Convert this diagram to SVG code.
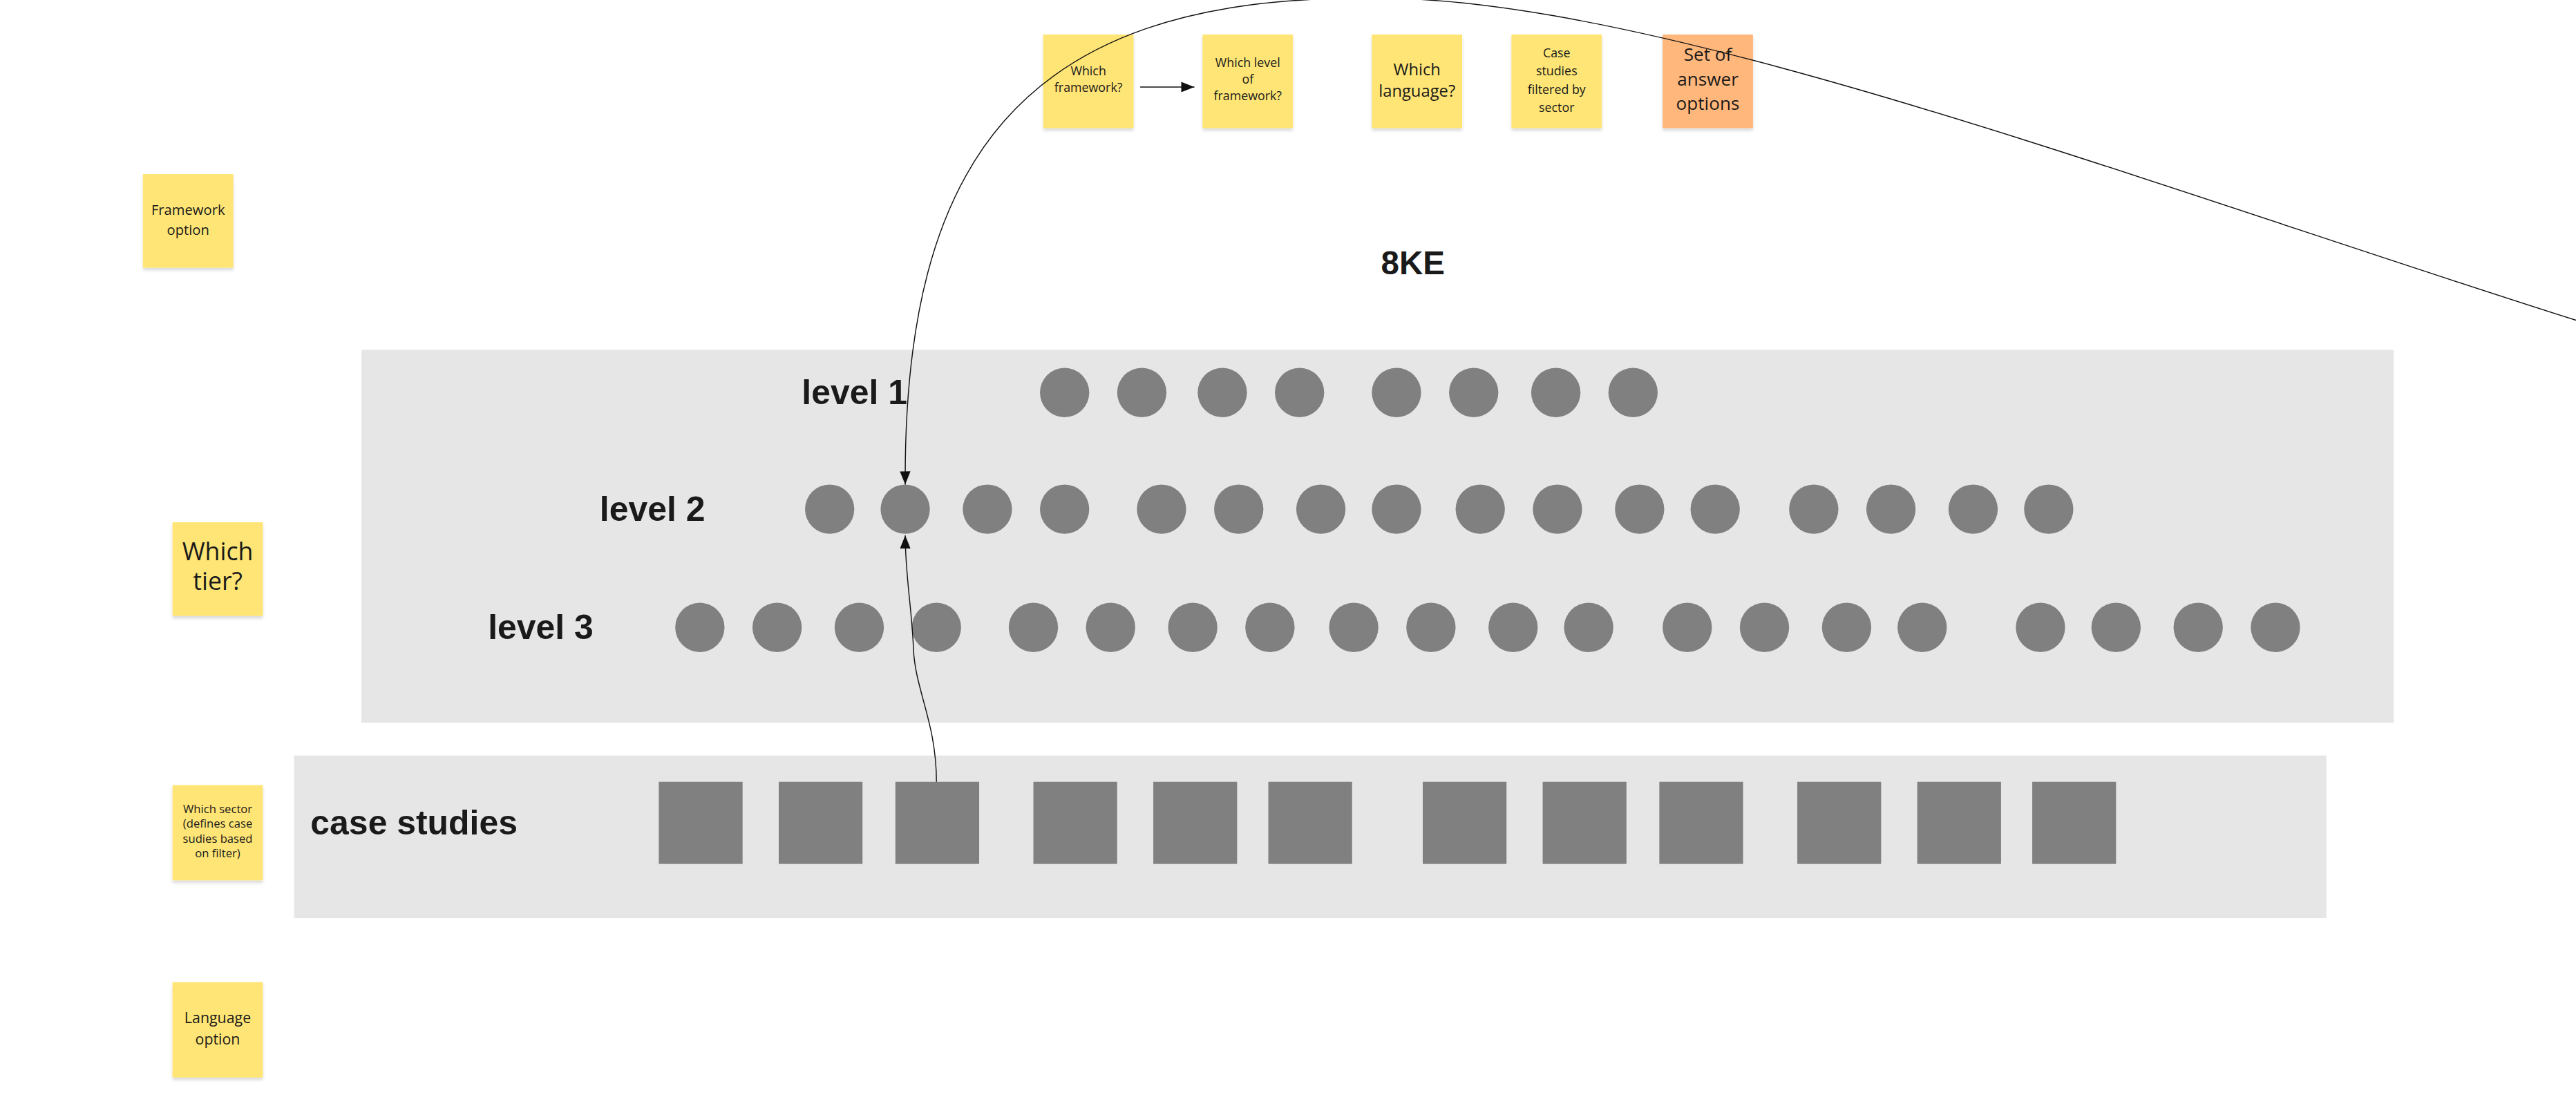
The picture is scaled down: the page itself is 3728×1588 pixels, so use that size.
<svg xmlns="http://www.w3.org/2000/svg" width="3728" height="1588" viewBox="0 0 3728 1588">
<style>
.note{fill:#fee574}
.orange{fill:#ffb77c}
.nt{font-family:"Open Sans",sans-serif;fill:#1a1a1a;text-anchor:middle}
.hd{font-family:"Liberation Sans",Arial,sans-serif;font-weight:bold;fill:#1a1a1a}
.panel{fill:#e6e6e6}
.c{fill:#808080}
.conn{fill:none;stroke:#111;stroke-width:0.6}
</style>
<defs>
<marker id="ah" viewBox="0 0 10 10" refX="10" refY="5" markerWidth="8" markerHeight="8" markerUnits="userSpaceOnUse" orient="auto"><path d="M0,1 L10,5 L0,9 z" fill="#111"/></marker>
<filter id="sh" x="-10%" y="-10%" width="130%" height="130%"><feDropShadow dx="0" dy="1.5" stdDeviation="1" flood-opacity="0.15"/></filter>
</defs>
<rect width="3728" height="1588" fill="#fff"/>
<g transform="scale(2.3776)">
<g id="panel-levels"><rect class="panel" x="220" y="213" width="1237" height="227"/></g>
<g id="panel-cases"><rect class="panel" x="179" y="460" width="1237" height="99"/></g>
<g id="title"><text class="hd" x="860" y="167" font-size="20" text-anchor="middle">8KE</text></g>
<g id="label-level1"><text class="hd" x="488" y="246" font-size="21">level 1</text></g>
<g id="label-level2"><text class="hd" x="365" y="317" font-size="21">level 2</text></g>
<g id="label-level3"><text class="hd" x="297" y="389" font-size="21">level 3</text></g>
<g id="label-cases"><text class="hd" x="189" y="508" font-size="21">case studies</text></g>
<g id="level1-nodes">
<circle class="c" cx="648" cy="239" r="15"/><circle class="c" cx="695" cy="239" r="15"/><circle class="c" cx="744" cy="239" r="15"/><circle class="c" cx="791" cy="239" r="15"/><circle class="c" cx="850" cy="239" r="15"/><circle class="c" cx="897" cy="239" r="15"/><circle class="c" cx="947" cy="239" r="15"/><circle class="c" cx="994" cy="239" r="15"/>
</g>
<g id="level2-nodes">
<circle class="c" cx="505" cy="310" r="15"/><circle class="c" cx="551" cy="310" r="15"/><circle class="c" cx="601" cy="310" r="15"/><circle class="c" cx="648" cy="310" r="15"/><circle class="c" cx="707" cy="310" r="15"/><circle class="c" cx="754" cy="310" r="15"/><circle class="c" cx="804" cy="310" r="15"/><circle class="c" cx="850" cy="310" r="15"/><circle class="c" cx="901" cy="310" r="15"/><circle class="c" cx="948" cy="310" r="15"/><circle class="c" cx="998" cy="310" r="15"/><circle class="c" cx="1044" cy="310" r="15"/><circle class="c" cx="1104" cy="310" r="15"/><circle class="c" cx="1151" cy="310" r="15"/><circle class="c" cx="1201" cy="310" r="15"/><circle class="c" cx="1247" cy="310" r="15"/>
</g>
<g id="level3-nodes">
<circle class="c" cx="426" cy="382" r="15"/><circle class="c" cx="473" cy="382" r="15"/><circle class="c" cx="523" cy="382" r="15"/><circle class="c" cx="570" cy="382" r="15"/><circle class="c" cx="629" cy="382" r="15"/><circle class="c" cx="676" cy="382" r="15"/><circle class="c" cx="726" cy="382" r="15"/><circle class="c" cx="773" cy="382" r="15"/><circle class="c" cx="824" cy="382" r="15"/><circle class="c" cx="871" cy="382" r="15"/><circle class="c" cx="921" cy="382" r="15"/><circle class="c" cx="967" cy="382" r="15"/><circle class="c" cx="1027" cy="382" r="15"/><circle class="c" cx="1074" cy="382" r="15"/><circle class="c" cx="1124" cy="382" r="15"/><circle class="c" cx="1170" cy="382" r="15"/><circle class="c" cx="1242" cy="382" r="15"/><circle class="c" cx="1288" cy="382" r="15"/><circle class="c" cx="1338" cy="382" r="15"/><circle class="c" cx="1385" cy="382" r="15"/>
</g>
<g id="case-nodes">
<rect class="c" x="401" y="476" width="51" height="50"/><rect class="c" x="474" y="476" width="51" height="50"/><rect class="c" x="545" y="476" width="51" height="50"/><rect class="c" x="629" y="476" width="51" height="50"/><rect class="c" x="702" y="476" width="51" height="50"/><rect class="c" x="772" y="476" width="51" height="50"/><rect class="c" x="866" y="476" width="51" height="50"/><rect class="c" x="939" y="476" width="51" height="50"/><rect class="c" x="1010" y="476" width="51" height="50"/><rect class="c" x="1094" y="476" width="51" height="50"/><rect class="c" x="1167" y="476" width="51" height="50"/><rect class="c" x="1237" y="476" width="51" height="50"/>
</g>
<g id="note-framework-option"><rect class="note" filter="url(#sh)" x="87" y="106" width="55" height="57"/><text class="nt" font-size="8.5" x="114.5" y="131">Framework</text><text class="nt" font-size="8.5" x="114.5" y="143">option</text></g>
<g id="note-which-tier"><rect class="note" filter="url(#sh)" x="105" y="318" width="55" height="57"/><text class="nt" font-size="15" x="132.5" y="341">Which</text><text class="nt" font-size="15" x="132.5" y="359">tier?</text></g>
<g id="note-which-sector"><rect class="note" filter="url(#sh)" x="105" y="478" width="55" height="58"/><text class="nt" font-size="7" x="132.5" y="495">Which sector</text><text class="nt" font-size="7" x="132.5" y="504">(defines case</text><text class="nt" font-size="7" x="132.5" y="513">sudies based</text><text class="nt" font-size="7" x="132.5" y="522">on filter)</text></g>
<g id="note-language-option"><rect class="note" filter="url(#sh)" x="105" y="598" width="55" height="58"/><text class="nt" font-size="9" x="132.5" y="623">Language</text><text class="nt" font-size="9" x="132.5" y="636">option</text></g>
<g id="note-which-framework"><rect class="note" filter="url(#sh)" x="635" y="21" width="55" height="57"/><text class="nt" font-size="7.5" x="662.5" y="46">Which</text><text class="nt" font-size="7.5" x="662.5" y="56">framework?</text></g>
<g id="note-which-level"><rect class="note" filter="url(#sh)" x="732" y="21" width="55" height="57"/><text class="nt" font-size="7.5" x="759.5" y="41">Which level</text><text class="nt" font-size="7.5" x="759.5" y="51">of</text><text class="nt" font-size="7.5" x="759.5" y="61">framework?</text></g>
<g id="note-which-language"><rect class="note" filter="url(#sh)" x="835" y="21" width="55" height="57"/><text class="nt" font-size="10" x="862.5" y="46">Which</text><text class="nt" font-size="10" x="862.5" y="59">language?</text></g>
<g id="note-case-filtered"><rect class="note" filter="url(#sh)" x="920" y="21" width="55" height="57"/><text class="nt" font-size="7.5" x="947.5" y="35">Case</text><text class="nt" font-size="7.5" x="947.5" y="46">studies</text><text class="nt" font-size="7.5" x="947.5" y="57">filtered by</text><text class="nt" font-size="7.5" x="947.5" y="68">sector</text></g>
<g id="note-answer-options"><rect class="orange" filter="url(#sh)" x="1012" y="21" width="55" height="57"/><text class="nt" font-size="11" x="1039.5" y="37">Set of</text><text class="nt" font-size="11" x="1039.5" y="52">answer</text><text class="nt" font-size="11" x="1039.5" y="67">options</text></g>
<g id="connectors">
<path class="conn" d="M694,53 L727,53" marker-end="url(#ah)"/>
<path class="conn" d="M570,476 C570,440 557,420 556,395 C555,370 551,350 551,326" marker-end="url(#ah)"/>
<path class="conn" d="M1568,195 C1300,110 1000,-5 830,-1 C620,-2 550,100 551,295" marker-end="url(#ah)"/>
</g>
</g>
</svg>
